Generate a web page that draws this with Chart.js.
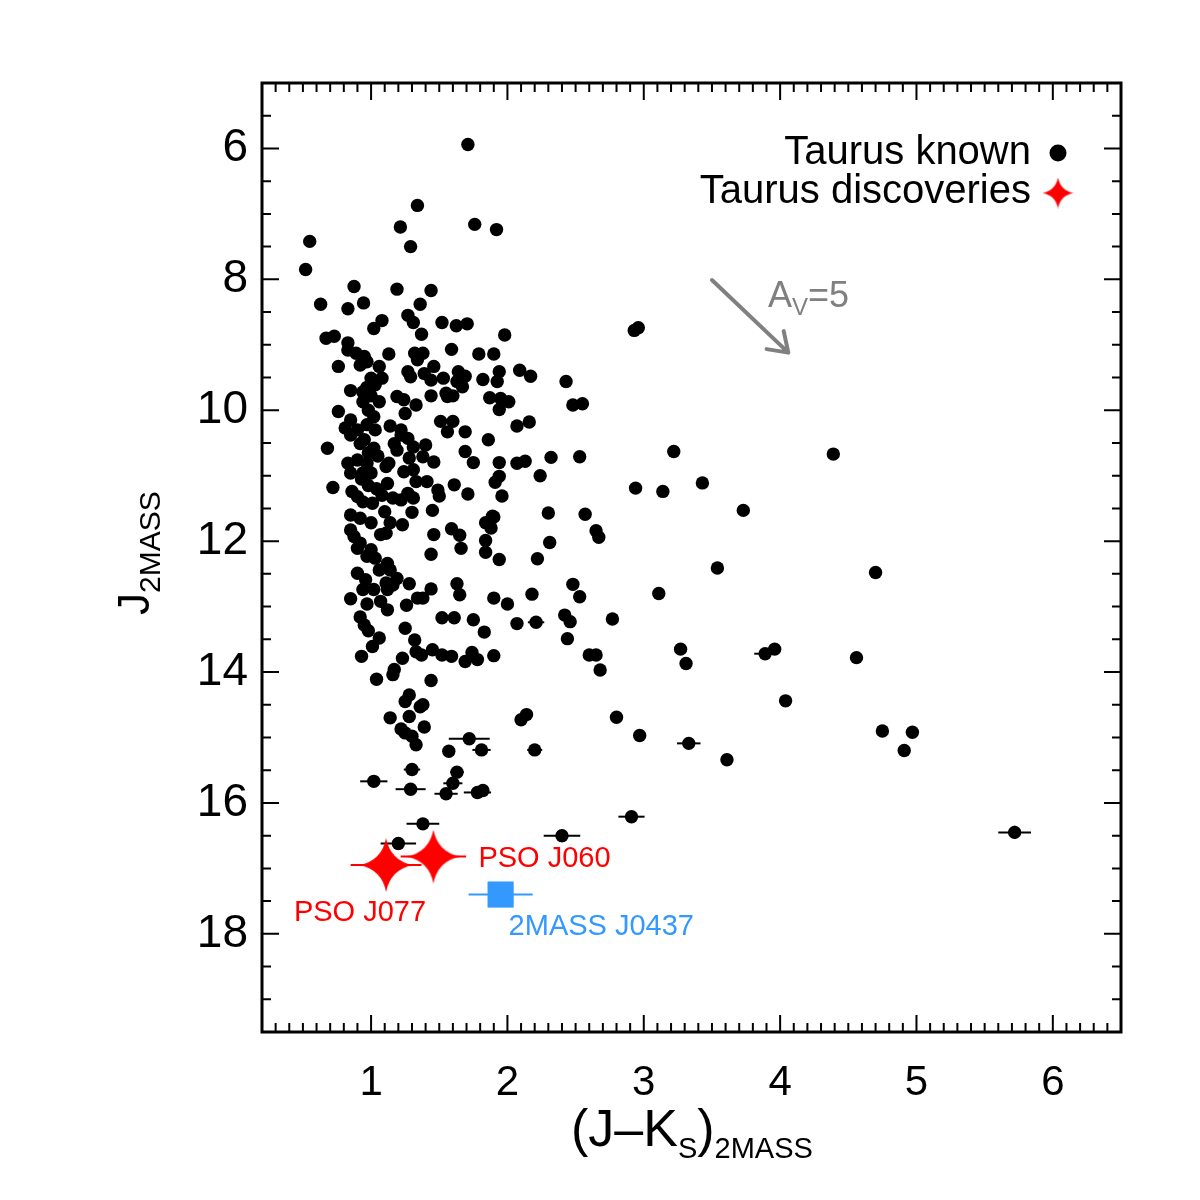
<!DOCTYPE html>
<html>
<head>
<meta charset="utf-8">
<script src="https://cdn.jsdelivr.net/npm/chart.js@4.4.1/dist/chart.umd.min.js"></script>
<style>
  body { margin: 0; background: #fff; }
</style>
</head>
<body>
<canvas id="cmd" width="1200" height="1200"></canvas>
<script>
// Taurus known members, (J-Ks) and J from 2MASS
const knownJK = [
    0.52, 0.55, 0.63, 0.83, 0.875, 0.945, 1.02, 1.08, 1.19, 1.215,
    1.27, 1.29, 1.31, 1.34, 1.36, 1.37, 1.44, 1.52, 1.625, 1.705,
    1.71, 1.76, 1.92, 1.98,
    0.67, 0.73, 0.83, 0.83, 0.89, 0.95, 0.97, 0.92, 0.76, 1.13,
    1.32, 1.38, 1.34, 1.59, 1.79, 1.9, 1.06, 1.0, 1.08, 1.27,
    1.29, 1.39, 1.46, 1.44, 1.53, 1.64, 1.69, 1.63, 1.67, 1.82,
    1.94, 1.925, 2.09, 2.17, 2.43, 0.85, 0.94, 1.03, 1.06, 0.94,
    1.19, 1.24, 1.33, 1.44, 1.55, 1.56, 1.6, 1.87, 1.95, 2.01,
    1.94, 0.76, 1.25, 0.85, 1.02, 0.81, 0.97, 1.14, 1.22, 1.51,
    1.6, 1.56, 1.69, 1.86, 2.07, 2.16, 0.68, 0.85, 0.92, 1.02,
    1.17, 1.19, 1.22, 1.27, 1.31, 1.4, 1.28, 1.38, 1.46, 1.69,
    1.75, 1.94, 2.07, 2.13, 2.32, 0.83, 0.9, 0.85, 0.97, 0.94,
    1.0, 1.11, 1.13, 1.24, 1.31, 1.33, 1.12, 1.41, 1.49, 1.5,
    1.61, 1.71, 1.91, 1.94, 1.96, 2.24, 0.72, 0.86, 0.9, 0.94,
    1.01, 1.16, 1.22, 1.27, 1.31, 1.45, 1.3, 1.1, 0.85, 1.89,
    2.3, 0.97, 1.0, 0.98, 1.03, 0.9, 0.95, 1.05, 0.98, 1.04,
    0.98, 0.93, 1.08, 2.93, 2.96, 2.48, 2.55,
    0.92, 1.0, 1.14, 1.23, 0.85, 0.875, 0.92, 0.9, 1.07, 1.11,
    1.0, 0.97, 1.03, 1.12, 1.06, 1.14, 1.19, 0.9, 0.96, 1.11,
    1.16, 0.94, 1.02, 1.12, 0.85, 0.97, 1.07, 1.12, 1.28, 1.34,
    1.38, 1.26, 1.44, 1.46, 1.44, 1.59, 1.65, 1.66, 1.63, 1.65,
    1.84, 1.9, 1.88, 1.84, 1.84, 1.94, 2.31, 2.22, 1.9, 2.0,
    2.18, 0.92, 0.95, 0.98, 1.06, 1.01, 0.93, 1.25, 1.52, 1.61,
    1.75, 1.83, 2.07, 1.32, 1.33, 1.37, 1.45, 1.52, 1.59, 1.69,
    1.74, 1.78, 1.9, 1.23, 1.17, 1.16, 1.04, 1.44, 1.28, 1.25,
    1.38,
    1.36, 1.14, 1.28, 1.39, 1.22, 1.25, 1.3, 1.33, 1.57, 2.1,
    2.14, 1.82,
    2.53, 3.22, 4.39, 2.94, 3.14, 3.43, 3.73, 2.57, 2.65, 2.67,
    3.54, 4.7, 2.48, 2.53, 3.11, 2.42, 2.46, 2.77, 2.44, 2.6,
    2.65, 2.68, 3.27, 3.31, 3.96, 4.56, 4.04, 2.8, 2.97, 3.61,
    4.75, 4.97, 4.91
];
const knownJ = [
    7.85, 7.42, 8.38, 8.45, 8.11, 8.36, 8.75, 8.63, 8.15, 7.2,
    8.55, 7.5, 8.66, 6.87, 8.38, 8.84, 8.17, 8.66, 8.71, 8.68,
    5.94, 7.16, 7.24, 8.85,
    8.9, 8.87, 8.97, 9.08, 9.13, 9.18, 9.26, 9.31, 9.33, 9.14,
    9.13, 9.13, 9.23, 9.07, 9.14, 9.14, 9.33, 9.51, 9.51, 9.41,
    9.49, 9.44, 9.33, 9.54, 9.51, 9.41, 9.48, 9.56, 9.64, 9.53,
    9.41, 9.56, 9.39, 9.48, 9.56, 9.7, 9.72, 9.61, 9.87, 9.87,
    9.79, 9.84, 9.92, 9.78, 9.74, 9.79, 9.78, 9.81, 9.82, 9.87,
    9.99, 10.02, 10.05, 10.15, 10.1, 10.27, 10.22, 10.24, 10.3, 10.17,
    10.17, 10.33, 10.33, 10.45, 10.24, 10.18, 10.58, 10.38, 10.51, 10.58,
    10.51, 10.61, 10.38, 10.43, 10.56, 10.53, 10.73, 10.71, 10.79, 10.63,
    10.8, 10.8, 10.81, 10.78, 10.72, 10.81, 10.76, 10.96, 10.81, 10.96,
    10.96, 10.86, 10.81, 10.94, 10.91, 11.09, 11.12, 11.09, 11.22, 11.31,
    11.14, 11.28, 11.1, 11.01, 11.31, 11.0, 11.18, 11.24, 11.32, 11.4,
    11.42, 11.34, 11.37, 11.27, 11.34, 11.53, 11.56, 11.55, 11.6, 11.62,
    11.57, 9.65, 9.78, 10.0, 10.3, 10.3, 10.45, 10.7, 10.65, 11.2,
    11.15, 11.05, 11.3, 8.78, 8.74, 9.92, 9.9,
    11.65, 11.72, 11.72, 11.75, 11.83, 11.93, 12.03, 12.11, 11.9, 11.88,
    12.13, 12.23, 12.26, 12.34, 12.44, 12.44, 12.57, 12.49, 12.59, 12.64,
    12.67, 12.74, 12.74, 12.74, 12.88, 12.96, 12.92, 13.05, 12.65, 12.87,
    12.87, 12.98, 12.73, 11.9, 12.2, 11.81, 11.91, 12.11, 12.65, 12.82,
    11.72, 11.63, 11.8, 11.99, 12.17, 12.28, 12.02, 12.27, 12.87, 12.96,
    12.81, 13.16, 13.28, 13.37, 13.48, 13.61, 13.76, 13.33, 13.17, 13.17,
    13.2, 13.39, 13.26, 13.51, 13.69, 13.74, 13.66, 13.74, 13.76, 13.84,
    13.7, 13.81, 13.75, 13.79, 13.96, 14.04, 14.11, 14.13, 14.35, 14.45,
    14.5,
    14.53, 14.7, 14.68, 14.84, 14.87, 14.93, 14.98, 15.11, 15.21, 14.73,
    14.65, 15.81,
    10.71, 10.63, 10.67, 11.19, 11.24, 11.11, 11.53, 11.59, 11.84, 11.94,
    12.41, 12.48, 12.66, 12.85, 12.8, 13.13, 13.23, 13.19, 13.49, 13.74,
    13.74, 13.97, 13.65, 13.87, 13.65, 13.78, 14.44, 14.69, 14.97, 15.34,
    14.9, 14.92, 15.2
];

// fainter known members, drawn with their error bars
const faintJK = [2.21, 3.89, 3.33, 2.91, 5.72, 2.4, 1.38, 1.2, 1.72, 1.81, 2.2, 1.3, 1.02, 1.29, 1.63, 1.6, 1.55, 1.78];
const faintJ = [13.24, 13.72, 15.09, 16.21, 16.45, 16.5, 16.32, 16.62, 15.02, 15.19, 15.19, 15.49, 15.67, 15.79, 15.53, 15.7, 15.86, 15.84];
const faintErrJK = [0.06, 0.08, 0.086, 0.096, 0.12, 0.134, 0.12, 0.13, 0.15, 0.067, 0.055, 0.06, 0.1, 0.11, 0.05, 0.07, 0.085, 0.1];
const faintErrJ = [0, 0, 0, 0, 0.1, 0.1, 0, 0, 0, 0, 0, 0, 0, 0, 0, 0, 0, 0];

// new discoveries and the comparison object
const psoNames = ["PSO J077", "PSO J060"];
const psoJK = [1.11, 1.457];
const psoJ = [16.95, 16.82];
const psoErrJK = [0.26, 0.24];
const refNames = ["2MASS J0437"];
const refJK = [1.95];
const refJ = [17.4];
const refErrJK = [0.235];

// reddening vector A_V = 5
const arrowFrom = [3.5, 8.01];
const arrowTo = [4.06, 9.12];

const xTicks = [1, 2, 3, 4, 5, 6];
const yTicks = [6, 8, 10, 12, 14, 16, 18];

const FONT = '"Liberation Sans", Helvetica, Arial, sans-serif';
const RED = "#ff0000";
const BLUE = "#3399ff";

function makeStar(size, color) {
    const c = document.createElement("canvas");
    c.width = size;
    c.height = size;
    const g = c.getContext("2d");
    const r = size / 2, k = 0.16 * r;
    g.translate(r, r);
    g.fillStyle = color;
    g.beginPath();
    g.moveTo(0, -r);
    g.quadraticCurveTo(k, -k, r, 0);
    g.quadraticCurveTo(k, k, 0, r);
    g.quadraticCurveTo(-k, k, -r, 0);
    g.quadraticCurveTo(-k, -k, 0, -r);
    g.fill();
    return c;
}
const bigStar = makeStar(54, RED);
const smallStar = makeStar(31, RED);

function toPoints(xs, ys) {
    return xs.map((v, i) => ({ x: v, y: ys[i] }));
}

// text with sub-scripts: parts = [text, size, dy]
function drawRich(ctx, parts, x, y) {
    parts.forEach(([t, s, dy]) => {
        ctx.font = s + "px " + FONT;
        ctx.fillText(t, x, y + dy);
        x += ctx.measureText(t).width;
    });
}

const errorBars = {
    id: "errorBars",
    beforeDatasetsDraw(chart) {
        const { ctx, scales: { x, y } } = chart;
        chart.data.datasets.forEach(ds => {
            if (!ds.errJK) return;
            ctx.save();
            ctx.strokeStyle = ds.errColor;
            ctx.lineWidth = 2;
            ds.data.forEach((p, i) => {
                const ex = ds.errJK[i] || 0;
                const ey = ds.errJ ? ds.errJ[i] : 0;
                const px = x.getPixelForValue(p.x), py = y.getPixelForValue(p.y);
                ctx.beginPath();
                if (ex) {
                    ctx.moveTo(x.getPixelForValue(p.x - ex), py);
                    ctx.lineTo(x.getPixelForValue(p.x + ex), py);
                }
                if (ey) {
                    ctx.moveTo(px, y.getPixelForValue(p.y - ey));
                    ctx.lineTo(px, y.getPixelForValue(p.y + ey));
                }
                ctx.stroke();
            });
            ctx.restore();
        });
    }
};

// box and inward ticks on all four sides
const frame = {
    id: "frame",
    afterDatasetsDraw(chart) {
        const { ctx, chartArea: a, scales: { x, y } } = chart;
        ctx.save();
        ctx.strokeStyle = "#000";
        ctx.lineWidth = 2;
        ctx.beginPath();
        for (let i = 3; i < 65; i++) {
            const v = i / 10;
            if (v >= x.max) break;
            const px = x.getPixelForValue(v);
            const len = i % 10 === 0 ? 17 : 9;
            ctx.moveTo(px, a.bottom); ctx.lineTo(px, a.bottom - len);
            ctx.moveTo(px, a.top); ctx.lineTo(px, a.top + len);
        }
        for (let i = 11; i < 39; i++) {
            const v = i / 2;
            const py = y.getPixelForValue(v);
            const len = i % 4 === 0 ? 17 : 9;
            ctx.moveTo(a.left, py); ctx.lineTo(a.left + len, py);
            ctx.moveTo(a.right, py); ctx.lineTo(a.right - len, py);
        }
        ctx.stroke();
        ctx.lineWidth = 3;
        ctx.strokeRect(a.left, a.top, a.right - a.left, a.bottom - a.top);
        ctx.restore();
    }
};

const annotations = {
    id: "annotations",
    afterDraw(chart) {
        const { ctx, chartArea: a, scales: { x, y } } = chart;
        ctx.save();
        ctx.textBaseline = "alphabetic";

        // axis titles
        ctx.fillStyle = "#000";
        ctx.textAlign = "left";
        drawRich(ctx, [["(J\u2013K", 52, 0], ["S", 29, 12], [")", 52, 0], ["2MASS", 29, 12]], 571, 1146);
        ctx.save();
        ctx.translate(149, 615);
        ctx.rotate(-Math.PI / 2);
        drawRich(ctx, [["J", 44, 0], ["2MASS", 30, 11]], 0, 0);
        ctx.restore();

        // legend
        ctx.textAlign = "right";
        ctx.font = "40px " + FONT;
        ctx.fillText("Taurus known", a.right - 90, 164);
        ctx.fillText("Taurus discoveries", a.right - 90, 203);
        ctx.beginPath();
        ctx.arc(a.right - 63, 153, 8.5, 0, Math.PI * 2);
        ctx.fill();
        ctx.drawImage(smallStar, a.right - 63 - 15.5, 193 - 15.5);

        // reddening arrow
        const x0 = x.getPixelForValue(arrowFrom[0]), y0 = y.getPixelForValue(arrowFrom[1]);
        const x1 = x.getPixelForValue(arrowTo[0]), y1 = y.getPixelForValue(arrowTo[1]);
        const ang = Math.atan2(y1 - y0, x1 - x0);
        ctx.strokeStyle = "#808080";
        ctx.fillStyle = "#808080";
        ctx.lineWidth = 4;
        ctx.lineCap = "round";
        ctx.beginPath();
        ctx.moveTo(x0, y0);
        ctx.lineTo(x1, y1);
        [-0.6, 0.6].forEach(d => {
            ctx.moveTo(x1, y1);
            ctx.lineTo(x1 - 22 * Math.cos(ang + d), y1 - 22 * Math.sin(ang + d));
        });
        ctx.stroke();
        ctx.textAlign = "left";
        drawRich(ctx, [["A", 36, 0], ["V", 24, 8], ["=5", 36, 0]], x0 + 56, y0 + 27);

        // object labels
        ctx.font = "29px " + FONT;
        ctx.fillStyle = RED;
        const p0x = x.getPixelForValue(psoJK[0]), p0y = y.getPixelForValue(psoJ[0]);
        const p1x = x.getPixelForValue(psoJK[1]), p1y = y.getPixelForValue(psoJ[1]);
        ctx.textAlign = "right";
        ctx.fillText(psoNames[0], p0x + 40, p0y + 56);
        ctx.textAlign = "left";
        ctx.fillText(psoNames[1], p1x + 45, p1y + 10);
        ctx.fillStyle = BLUE;
        const rx = x.getPixelForValue(refJK[0]), ry = y.getPixelForValue(refJ[0]);
        ctx.fillText(refNames[0], rx + 8, ry + 40);
        ctx.restore();
    }
};

new Chart(document.getElementById("cmd"), {
    type: "scatter",
    data: {
        datasets: [
            {
                label: "Taurus discoveries",
                data: toPoints(psoJK, psoJ),
                pointStyle: bigStar,
                pointRadius: 27,
                errJK: psoErrJK,
                errColor: RED,
                order: 0
            },
            {
                label: "2MASS J0437",
                data: toPoints(refJK, refJ),
                pointStyle: "rect",
                pointRadius: 18.5,
                backgroundColor: BLUE,
                borderWidth: 0,
                errJK: refErrJK,
                errColor: BLUE,
                order: 1
            },
            {
                label: "Taurus known (faint)",
                data: toPoints(faintJK, faintJ),
                pointRadius: 6.7,
                backgroundColor: "#000",
                borderWidth: 0,
                errJK: faintErrJK,
                errJ: faintErrJ,
                errColor: "#000",
                order: 2
            },
            {
                label: "Taurus known",
                data: toPoints(knownJK, knownJ),
                pointRadius: 6.7,
                backgroundColor: "#000",
                borderWidth: 0,
                order: 3
            }
        ]
    },
    options: {
        responsive: false,
        animation: false,
        devicePixelRatio: 1,
        layout: { padding: { top: 83, right: 79, left: 0, bottom: 0 } },
        plugins: { legend: { display: false }, tooltip: { enabled: false } },
        scales: {
            x: {
                type: "linear",
                position: "bottom",
                min: 0.2,
                max: 6.5,
                grid: { display: false, drawTicks: false },
                border: { display: false },
                afterBuildTicks: s => { s.ticks = xTicks.map(v => ({ value: v })); },
                afterFit: s => { s.height = 168; },
                ticks: { color: "#000", font: { family: FONT, size: 42 }, padding: 26, maxRotation: 0 }
            },
            y: {
                type: "linear",
                position: "left",
                reverse: true,
                min: 5,
                max: 19.5,
                grid: { display: false, drawTicks: false },
                border: { display: false },
                afterBuildTicks: s => { s.ticks = yTicks.map(v => ({ value: v })); },
                afterFit: s => { s.width = 262; },
                ticks: { color: "#000", font: { family: FONT, size: 46 }, padding: 14 }
            }
        }
    },
    plugins: [errorBars, frame, annotations]
});
</script>
</body>
</html>
